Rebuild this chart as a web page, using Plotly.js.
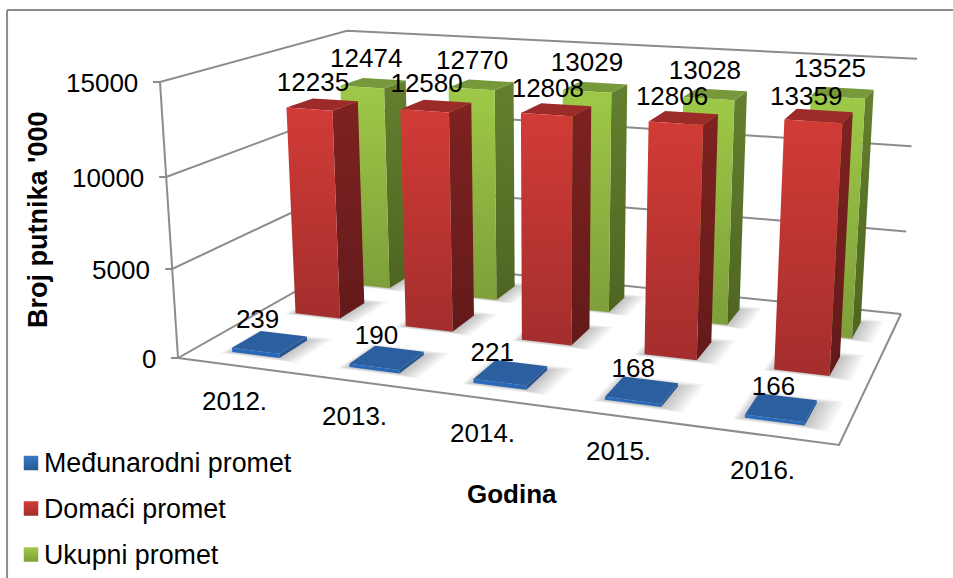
<!DOCTYPE html>
<html>
<head>
<meta charset="utf-8">
<script src="https://cdn.plot.ly/plotly-3.0.1.min.js"></script>
<style>html,body{margin:0;padding:0;background:#fff}#chart{width:953px;height:578px}</style>
</head>
<body>
<div id="chart"></div>
<script>
// ---- data ----
const categories = ['2012.', '2013.', '2014.', '2015.', '2016.'];
const medjunarodni = [239, 190, 221, 168, 166];
const domaci = [12235, 12580, 12808, 12806, 13359];
const ukupni = [12474, 12770, 13029, 13028, 13525];
const valueTicks = [0, 5000, 10000, 15000];
const seriesNames = ['Međunarodni promet', 'Domaći promet', 'Ukupni promet'];
const yTitle = "Broj putnika '000";
const xTitle = 'Godina';

// ---- scene: a 3D box (category, depth, value) projected on the page ----
const MAXV = 15000;
const corners = {A:[178,358],B:[839,445],C:[901,314],D:[354.6,258],At:[160,82],Ct:[917,59]};
const proj = (function(){
  const {A,B,C,D,At,Ct} = corners;
  const dx1=B[0]-C[0],dx2=D[0]-C[0],sx=A[0]-B[0]+C[0]-D[0];
  const dy1=B[1]-C[1],dy2=D[1]-C[1],sy=A[1]-B[1]+C[1]-D[1];
  const den=dx1*dy2-dy1*dx2;
  const p=(sx*dy2-sy*dx2)/den, q=(dx1*sy-dy1*sx)/den;
  const a=B[0]-A[0]+p*B[0], b=D[0]-A[0]+q*D[0], c=A[0];
  const d=B[1]-A[1]+p*B[1], e=D[1]-A[1]+q*D[1], f=A[1];
  const r1=(Ct[0]*(p+q)-a-b)/(At[0]-Ct[0]);
  const r=r1-1, gx=At[0]*r1-c, gy=At[1]*r1-f;
  return function(u,v,val){
    const h=val/MAXV, w=p*u+q*v+r*h+1;
    return [(a*u+b*v+gx*h+c)/w,(d*u+e*v+gy*h+f)/w];
  };
})();

const BAR_W = 0.082;
const rows = [
  {values: medjunarodni, v0:0.088, v1:0.235, uShift:0.004,
   front:['#2A6CBE','#2766B2'], side:['#2A5A98','#27528A'], top:'#2C5F9F', legend:['#3A78C8','#26598F'],
   labelOff:[-9,-20], nudge:[-1,1,-7,3,4], nudgeY:[0,0,2,1,1], legendY:463},
  {values: domaci, v0:0.434, v1:0.584, uShift:0.001,
   front:['#D23B36','#A32E2D'], side:['#7E2221','#631A1A'], top:'#9C2A29', legend:['#D23B36','#A32E2D'],
   labelOff:[-8,-20], nudge:[-1,-1,0,-3,-4], nudgeY:[0,0,1,1,3], legendY:508.5},
  {values: ukupni, v0:0.74, v1:0.885, uShift:0.004,
   front:['#9EC947','#7E9F3A'], side:['#64802E','#4E6522'], top:'#77983B', legend:['#A0CB48','#7E9F3A'],
   labelOff:[-8,-22], nudge:[3,1,2,0,-2], nudgeY:[0,0,0,0,0], legendY:554.5}
];

const traces = [];
const lineColor = '#8C8C8C';
function path(pts, close){
  const x=[],y=[];
  pts.forEach(p=>{x.push(p[0]);y.push(p[1]);});
  if(close){x.push(pts[0][0]);y.push(pts[0][1]);}
  return {x,y};
}
function line(pts, color, width){
  const s=path(pts,false);
  traces.push({type:'scatter',mode:'lines',x:s.x,y:s.y,line:{color:color||lineColor,width:width||2},
    hoverinfo:'skip',showlegend:false});
}
function face(pts, fill){
  const s=path(pts,true);
  const t={type:'scatter',mode:'lines',x:s.x,y:s.y,fill:'toself',line:{width:0},hoverinfo:'skip',showlegend:false};
  if(Array.isArray(fill)){
    const ys=s.y;
    t.fillgradient={type:'vertical',start:Math.min(...ys),stop:Math.max(...ys),
      colorscale:[[0,fill[0]],[1,fill[1]]]};
  } else { t.fillcolor=fill; }
  traces.push(t);
}

// walls and floor
const TICK = 7;
valueTicks.forEach(val=>{
  const a=proj(0,0,val), d=proj(0,1,val), c=proj(1,1,val);
  line([[a[0]-TICK,a[1]],a,d,c]);
});
line([proj(0,0,0),proj(0,0,MAXV)]);
line([proj(0,0,0),proj(1,0,0),proj(1,1,0)]);

// soft shadows on the floor
[[0.024,0.036],[0.020,0.030],[0.016,0.024],[0.012,0.018],[0.008,0.012],[0.004,0.006]].forEach(g=>{
  const x=[],y=[];
  rows.forEach(row=>{
    categories.forEach((_,i)=>{
      const uc=(i+0.5)/categories.length+row.uShift, u0=uc-BAR_W/2-g[0]*0.6, u1=uc+BAR_W/2+g[0]*1.4;
      const v0=row.v0-g[1]*0.5, v1=row.v1+g[1];
      [[u0,v0],[u1,v0],[u1,v1],[u0,v1],[u0,v0]].forEach(q=>{
        const p=proj(q[0],q[1],0); x.push(p[0]); y.push(p[1]);
      });
      x.push(null); y.push(null);
    });
  });
  traces.push({type:'scatter',mode:'lines',x,y,fill:'toself',fillcolor:'rgba(0,0,0,0.04)',
    line:{width:0},hoverinfo:'skip',showlegend:false});
});

// bars, painted from the back row to the front row
const labelX=[],labelY=[],labelT=[];
[2,1,0].forEach(ri=>{
  const row=rows[ri];
  row.values.forEach((val,i)=>{
    const uc=(i+0.5)/categories.length+row.uShift, u0=uc-BAR_W/2, u1=uc+BAR_W/2;
    face([proj(u1,row.v0,0),proj(u1,row.v1,0),proj(u1,row.v1,val),proj(u1,row.v0,val)],row.side);
    face([proj(u0,row.v0,val),proj(u1,row.v0,val),proj(u1,row.v1,val),proj(u0,row.v1,val)],row.top);
    face([proj(u0,row.v0,0),proj(u1,row.v0,0),proj(u1,row.v0,val),proj(u0,row.v0,val)],row.front);
  });
});
rows.forEach(row=>{
  row.values.forEach((val,i)=>{
    const uc=(i+0.5)/categories.length;
    const c=proj(uc,(row.v0+row.v1)/2,val);
    labelX.push(c[0]+row.labelOff[0]+row.nudge[i]);
    labelY.push(c[1]+row.labelOff[1]+row.nudgeY[i]);
    labelT.push(String(val));
  });
});
traces.push({type:'scatter',mode:'text',x:labelX,y:labelY,text:labelT,textposition:'middle center',
  textfont:{family:'Liberation Sans',size:26,color:'#000'},hoverinfo:'skip',showlegend:false});

// legend swatches
const LEG_X = 31, LEG_TEXT_X = 42.5;
seriesNames.forEach((name,i)=>{
  traces.push({type:'scatter',mode:'markers',x:[LEG_X],y:[rows[i].legendY],name,showlegend:false,
    marker:{symbol:'square',size:14.5,color:rows[i].legend[0],line:{width:0},
      gradient:{type:'vertical',color:rows[i].legend[1]}},hoverinfo:'skip'});
});

// axis and legend texts
const font={family:'Liberation Sans',size:26,color:'#000'};
const annotations=[];
valueTicks.forEach(val=>{
  const a=proj(0,0,val);
  annotations.push({x:a[0]-21.5,y:a[1]+1,xref:'x',yref:'y',text:String(val),showarrow:false,
    xanchor:'right',yanchor:'middle',font,borderpad:0});
});
categories.forEach((cat,i)=>{
  const p=proj((i+0.5)/categories.length,0,0);
  annotations.push({x:p[0]-1,y:p[1]+35,xref:'x',yref:'y',text:cat,showarrow:false,
    xanchor:'center',yanchor:'middle',font,borderpad:0});
});
seriesNames.forEach((name,i)=>{
  annotations.push({x:LEG_TEXT_X,y:rows[i].legendY,xref:'x',yref:'y',text:name,showarrow:false,
    xanchor:'left',yanchor:'middle',font:{family:'Liberation Sans',size:26.8,color:'#000'},borderpad:0});
});
annotations.push({x:38,y:220,xref:'x',yref:'y',text:yTitle,textangle:-90,showarrow:false,
  font:{family:'Liberation Sans',size:27,color:'#000',weight:'bold'}});
annotations.push({x:512,y:494,xref:'x',yref:'y',text:xTitle,showarrow:false,
  font:{family:'Liberation Sans',size:26,color:'#000',weight:'bold'}});

const layout={
  width:953,height:578,margin:{l:0,r:0,t:0,b:0},paper_bgcolor:'#fff',plot_bgcolor:'#fff',
  xaxis:{range:[0,953],visible:false,fixedrange:true},
  yaxis:{range:[578,0],visible:false,fixedrange:true},
  showlegend:false,
  annotations,
  shapes:[
    {type:'line',xref:'paper',yref:'paper',x0:0.0074,x1:1,y0:1-10/578,y1:1-10/578,line:{color:'#8C8C8C',width:2}},
    {type:'line',xref:'paper',yref:'paper',x0:0.0074,x1:0.0074,y0:0,y1:1-10/578,line:{color:'#8C8C8C',width:2}}
  ]
};
Plotly.newPlot('chart',traces,layout,{displayModeBar:false,staticPlot:true});
</script>
</body>
</html>
